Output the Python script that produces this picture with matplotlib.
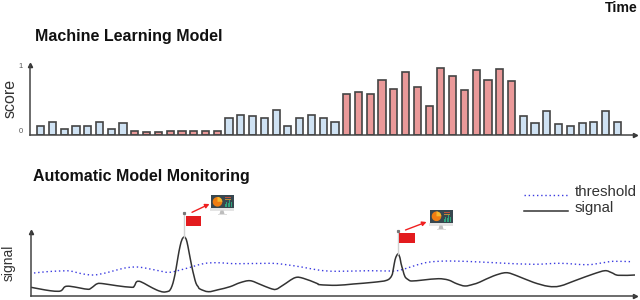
import matplotlib
matplotlib.use("Agg")
import matplotlib.pyplot as plt
from matplotlib.patches import Rectangle, Wedge, Polygon, PathPatch
from matplotlib.path import Path

plt.rcParams['font.family'] = ['Liberation Sans', 'DejaVu Sans']

W, H = 640, 300
DARK = '#444444'
BLUE_FILL = '#cfe2f3'
RED_FILL = '#ea9999'
SIG_COLOR = '#333333'
THR_COLOR = '#3a3ae0'

# --- data -------------------------------------------------------------
scores = [0.125, 0.187, 0.077, 0.120, 0.125, 0.177, 0.077, 0.163,
          0.053, 0.043, 0.043, 0.053, 0.053, 0.053, 0.053, 0.053,
          0.244, 0.278, 0.263, 0.244, 0.354, 0.125, 0.244, 0.278,
          0.244, 0.187,
          0.579, 0.617, 0.579, 0.780, 0.655, 0.895, 0.684, 0.411,
          0.952, 0.837, 0.641, 0.923, 0.780, 0.943, 0.766,
          0.269, 0.163, 0.340, 0.153, 0.125, 0.163, 0.177, 0.340, 0.187]
flagged = [False] * 8 + [True] * 8 + [False] * 10 + [True] * 15 + [False] * 9
score_ticks = [0, 1]

signal_t = [31, 40, 50, 58.3, 61.7, 65, 70, 80, 88.3, 91.7, 97.3, 103.3, 116.7,
            131.7, 134.3, 136.7, 140.7, 148.3, 156.7, 163.3, 168.3, 170, 172,
            174, 176, 178, 180, 182, 184, 185.5, 187, 189, 191.7, 194, 196, 198,
            200, 208.3, 218.3, 230, 240, 250, 260, 270, 276, 283.3, 295, 303.3,
            316.7, 320, 336.7, 353.3, 373.3, 386.7, 391.7, 393.5, 395, 396.7,
            398.3, 400, 401, 403, 405, 408, 411.7, 423.3, 438.3, 448.3, 456.7,
            465, 473.3, 480, 493.3, 506, 516.7, 533.3, 548.3, 560, 576.7, 593.3,
            605, 611.7, 618.3, 635]
signal_v = [8.7, 7, 5.3, 4.7, 5.7, 9.3, 9.7, 8, 6.7, 8.3, 12.3, 12.3, 10.3,
            8.7, 10, 14.3, 14.3, 10.3, 6, 4, 4.7, 6, 10,
            17, 27, 39, 49.5, 56.5, 59, 58, 54, 44, 30, 20, 12.7, 9.5,
            7, 4.3, 6.3, 9.3, 13.3, 15.3, 11.7, 7.7, 6.7, 11, 18.3, 17.7,
            12.7, 11.3, 10.7, 12, 13.7, 15.7, 20.3, 28, 36, 40.5,
            42, 38, 32.7, 25.5, 19.3, 16.5, 15, 16, 17.3, 16, 12.3,
            10, 11.7, 14, 20, 23.3, 20.3, 13.7, 9.7, 10, 16, 22,
            25.3, 23.3, 20.7, 21]

threshold_t = [34, 46.7, 60, 70, 81.7, 93.3, 106.7, 123.3, 135, 145, 160, 170,
               186.7, 203.3, 216.7, 236.7, 270, 283.3, 303.3, 320, 336.7, 370,
               393.3, 403.3, 416.7, 430, 450, 480, 500, 533.3, 560, 586.7, 603.3,
               613.3, 631.7]
threshold_v = [23, 24.3, 25, 25, 22.3, 21, 23.3, 27.7, 29, 28, 25, 23.7,
               27.7, 32.3, 33.3, 32.3, 32.7, 31.7, 28.7, 25.7, 24.7, 25.3,
               25, 26.7, 31, 34, 35, 34, 33, 31.7, 32.7, 31.3, 33.3,
               34.7, 34.3]

legend_labels = ['threshold', 'signal']

# flag pole time, flag box, arrow start/end, monitor box (px)
alerts = [
    dict(t=184, pole_top=213, flag=(185.5, 215.7, 201, 225.7),
         arrow=((192, 212.3), (209.5, 204)), mon=(210.5, 195, 233.5, 208)),
    dict(t=398.3, pole_top=231, flag=(398.5, 233, 414.5, 243.3),
         arrow=((405.5, 230), (426.5, 222)), mon=(429.5, 209.5, 452.5, 223)),
]


def axes_px(x0, y_top, x1, y_bot):
    return fig.add_axes([x0 / W, 1 - y_bot / H, (x1 - x0) / W, (y_bot - y_top) / H])


def smooth_path(xs, ys):
    """Rounded path through the read-off points (Catmull-Rom as Bezier)."""
    pts = list(zip(xs, ys))
    verts, codes = [pts[0]], [Path.MOVETO]
    for i in range(len(pts) - 1):
        p0 = pts[max(i - 1, 0)]
        p1, p2 = pts[i], pts[i + 1]
        p3 = pts[min(i + 2, len(pts) - 1)]
        c1 = (p1[0] + (p2[0] - p0[0]) / 6, p1[1] + (p2[1] - p0[1]) / 6)
        c2 = (p2[0] - (p3[0] - p1[0]) / 6, p2[1] - (p3[1] - p1[1]) / 6)
        verts += [c1, c2, p2]
        codes += [Path.CURVE4] * 3
    return Path(verts, codes)


fig = plt.figure(figsize=(W / 100, H / 100), dpi=100)

# --- score panel ------------------------------------------------------
ax1 = axes_px(30, 65, 635, 134.7)
pitch, first = 11.77, 40.7
ax1.set_xlim((30 - first) / pitch, (635 - first) / pitch)
ax1.set_ylim(0, 1)
ax1.bar(range(len(scores)), scores, width=7.2 / pitch,
        color=[RED_FILL if f else BLUE_FILL for f in flagged],
        edgecolor=DARK, linewidth=1.2)
ax1.set_xticks([])
ax1.set_yticks(score_ticks, labels=[str(t) for t in score_ticks])
ax1.tick_params(axis='y', length=0, pad=5, labelsize=5.5, labelcolor='#555555')
ax1.get_yticklabels()[0].set_verticalalignment('bottom')
ax1.set_ylabel('score', fontsize=11.5, color='#333333')
ax1.yaxis.set_label_coords(-12 / 605, 0.52)

# --- signal panel -----------------------------------------------------
ax2 = axes_px(31, 232, 635, 296)
ax2.set_xlim(31, 635)
ax2.set_ylim(0, 64)
ax2.add_patch(PathPatch(smooth_path(threshold_t, threshold_v), fill=False,
                        edgecolor=THR_COLOR, lw=1.0, ls=(0, (1, 2))))
ax2.add_patch(PathPatch(smooth_path(signal_t, signal_v), fill=False,
                        edgecolor=SIG_COLOR, lw=1.1, joinstyle='round'))
ax2.set_xticks([])
ax2.set_yticks([])
ax2.set_ylabel('signal', fontsize=10, color='#333333')
ax2.yaxis.set_label_coords(-15 / 604, 0.52)

for ax in (ax1, ax2):
    for s in ('top', 'right'):
        ax.spines[s].set_visible(False)
    for s in ('left', 'bottom'):
        ax.spines[s].set_color(DARK)
        ax.spines[s].set_linewidth(1.1)
    ax.plot(1, 0, '>', color='#333333', ms=3, transform=ax.transAxes, clip_on=False)
    ax.plot(0, 1, '^', color='#333333', ms=3, transform=ax.transAxes, clip_on=False)

# --- titles -----------------------------------------------------------
fig.text(35 / W, 1 - 36 / H, 'Machine Learning Model', fontsize=11.5, fontweight='bold',
         va='center', ha='left', color='#111111')
fig.text(33 / W, 1 - 177 / H, 'Automatic Model Monitoring', fontsize=11.5, fontweight='bold',
         va='center', ha='left', color='#111111')
fig.text(638 / W, 1 - 7.5 / H, 'Time', fontsize=10.2, fontweight='bold',
         va='center', ha='right', color='#111111')

# --- overlay in pixel coordinates -------------------------------------
ov = fig.add_axes([0, 0, 1, 1], facecolor='none')
ov.set_xlim(0, W)
ov.set_ylim(H, 0)
ov.axis('off')

# legend keys and labels
ov.plot([524, 568], [195, 195], color=THR_COLOR, lw=1.0, ls=(0, (1, 2)))
ov.plot([524, 568], [210.5, 210.5], color=SIG_COLOR, lw=1.1)
ov.text(575, 191.5, legend_labels[0], fontsize=10.8, color='#333333', va='center', ha='left')
ov.text(575, 208, legend_labels[1], fontsize=10.8, color='#333333', va='center', ha='left')

for a in alerts:
    x = a['t']
    peak_y = 296 - signal_v[signal_t.index(x)]
    ov.plot([x, x], [a['pole_top'], peak_y], color='#d0d0d0', lw=1.0, zorder=1)
    ov.plot([x], [a['pole_top']], 's', color='#777777', ms=1.3, zorder=2)
    fx0, fy0, fx1, fy1 = a['flag']
    ov.add_patch(Rectangle((fx0, fy0), fx1 - fx0, fy1 - fy0, color='#e31b1e', lw=0, zorder=2))
    ov.annotate('', xy=a['arrow'][1], xytext=a['arrow'][0],
                arrowprops=dict(arrowstyle='-|>,head_length=0.25,head_width=0.13',
                                color='#f02020', lw=1.0, shrinkA=0, shrinkB=0))
    mx0, my0, mx1, my1 = a['mon']
    mw, mh = mx1 - mx0, my1 - my0
    cx = (mx0 + mx1) / 2
    ov.add_patch(Rectangle((mx0 - 0.5, my1), mw + 1, 2.5, color='#e4e4e4', lw=0))
    ov.add_patch(Polygon([(cx - 1.5, my1 + 2.5), (cx + 1.5, my1 + 2.5), (cx + 2.5, my1 + 6),
                          (cx - 2.5, my1 + 6)], color='#bdbdbd', lw=0))
    ov.add_patch(Rectangle((cx - 4.5, my1 + 6), 9, 1.2, color='#dddddd', lw=0))
    ov.add_patch(Rectangle((mx0, my0), mw, mh, color='#37474f', lw=0))
    ov.add_patch(Wedge((mx0 + 7, my0 + 6.8), 4.8, 0, 360, color='#ef7d12', lw=0))
    ov.add_patch(Wedge((mx0 + 7, my0 + 6.8), 4.8, -90, 0, color='#f5b82e', lw=0))
    for i, h_ in enumerate((3, 5, 4, 8, 5)):
        ov.add_patch(Rectangle((mx0 + 14 + i * 1.5, my1 - 1 - h_), 1.1, h_, color='#2fa37c', lw=0))
    for i, c_ in enumerate(('#c0503a', '#b98a3a')):
        ov.add_patch(Rectangle((mx0 + 14, my0 + 2 + i * 2.2), 6, 1, color=c_, lw=0))

fig.savefig('out.png', dpi=100)
